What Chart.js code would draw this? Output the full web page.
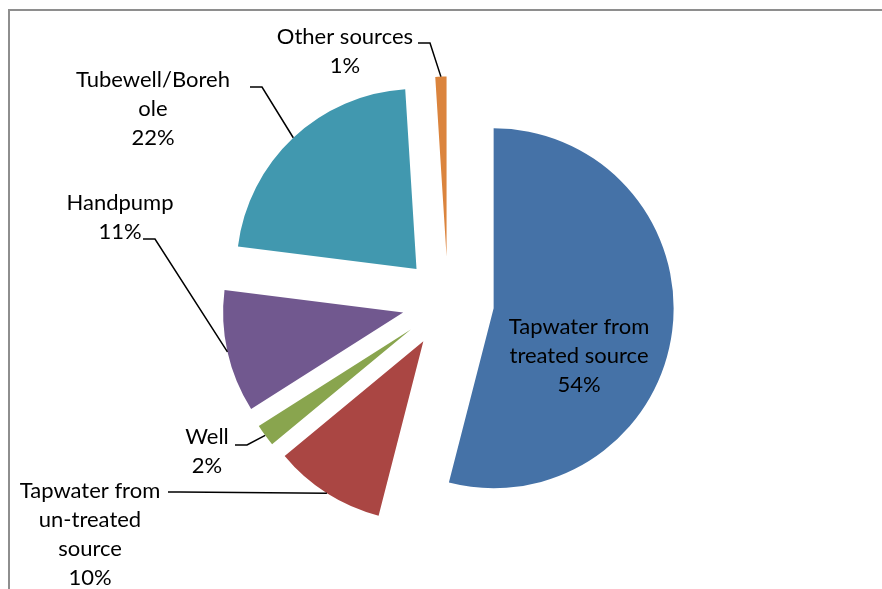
<!DOCTYPE html>
<html>
<head>
<meta charset="utf-8">
<script src="https://cdn.jsdelivr.net/npm/chart.js@4.4.1/dist/chart.umd.min.js"></script>
<style>
html, body { margin: 0; padding: 0; background: #fff; }
#wrap { position: relative; width: 882px; height: 589px; }
</style>
</head>
<body>
<div id="wrap"><canvas id="myChart" width="882" height="589"></canvas></div>
<script>
// Data
var sourceNames = ['Tapwater from treated source', 'Tapwater from un-treated source', 'Well', 'Handpump', 'Tubewell/Borehole', 'Other sources'];
var labelLines = [['Tapwater from', 'treated source'], ['Tapwater from', 'un-treated', 'source'], ['Well'], ['Handpump'], ['Tubewell/Boreh', 'ole'], ['Other sources']];
var sourceShares = [54, 10, 2, 11, 22, 1];
var sliceColors = ['#4572A7', '#AA4643', '#89A54E', '#71588F', '#4198AF', '#DB843D'];

// label placement, relative to pie centre (text = first line centre, lead = leader line start)
var labelLayout = [
    { tx: 131, ty: 24.5, lead: null },
    { tx: -358, ty: 188.5, lead: [-280, 189.5] },
    { tx: -241, ty: 134.5, lead: [-213, 142.5] },
    { tx: -328, ty: -99.5, lead: [-305, -63.5] },
    { tx: -295, ty: -222.5, lead: [-198, -215.5] },
    { tx: -103, ty: -265.5, lead: [-30, -259.5] }
];

var EXPLODE = 46;
var LINE_H = 29;

function pieCentre(chart) {
    var a = chart.chartArea;
    return { x: (a.left + a.right) / 2, y: (a.top + a.bottom) / 2 };
}

// push every slice out from the centre along its middle angle
var explodePlugin = {
    id: 'explode',
    afterDatasetsUpdate: function(chart) {
        var meta = chart.getDatasetMeta(0);
        var c = pieCentre(chart);
        meta.data.forEach(function(arc) {
            var mid = (arc.startAngle + arc.endAngle) / 2;
            arc.x = c.x + Math.cos(mid) * EXPLODE;
            arc.y = c.y + Math.sin(mid) * EXPLODE;
        });
    }
};

var framePlugin = {
    id: 'frame',
    beforeDraw: function(chart) {
        var c = chart.ctx;
        c.save();
        c.strokeStyle = '#8e8e8e';
        c.lineWidth = 2;
        c.strokeRect(9, 10, 1000, 1000);
        c.restore();
    }
};

var labelPlugin = {
    id: 'pieLabels',
    afterDraw: function(chart) {
        var c = chart.ctx;
        var meta = chart.getDatasetMeta(0);
        var centre = pieCentre(chart);
        c.save();
        c.font = '22px Lato, "Open Sans", sans-serif';
        c.fillStyle = '#000';
        c.textAlign = 'center';
        c.textBaseline = 'middle';
        for (var i = 0; i < meta.data.length; i++) {
            var arc = meta.data[i];
            var lay = labelLayout[i];
            var lines = labelLines[i].concat([sourceShares[i] + '%']);
            for (var j = 0; j < lines.length; j++) {
                c.fillText(lines[j], centre.x + lay.tx, centre.y + lay.ty + j * LINE_H);
            }
            if (lay.lead) {
                var mid = (arc.startAngle + arc.endAngle) / 2;
                var ex = arc.x + Math.cos(mid) * arc.outerRadius;
                var ey = arc.y + Math.sin(mid) * arc.outerRadius;
                var sx = centre.x + lay.lead[0], sy = centre.y + lay.lead[1];
                c.beginPath();
                c.strokeStyle = '#000';
                c.lineWidth = 1.5;
                c.moveTo(sx, sy);
                c.lineTo(sx + 12, sy);
                c.lineTo(ex, ey);
                c.stroke();
            }
        }
        c.restore();
    }
};

var ctx = document.getElementById('myChart').getContext('2d');
var chart = new Chart(ctx, {
    type: 'pie',
    data: {
        labels: sourceNames,
        datasets: [{
            data: sourceShares,
            backgroundColor: sliceColors,
            borderWidth: 0,
            hoverOffset: 0
        }]
    },
    options: {
        responsive: false,
        animation: false,
        events: [],
        radius: 180,
        layout: { padding: { left: 14, right: 0, top: 16, bottom: 0 } },
        plugins: {
            legend: { display: false },
            tooltip: { enabled: false }
        }
    },
    plugins: [explodePlugin, framePlugin, labelPlugin]
});
</script>
</body>
</html>
